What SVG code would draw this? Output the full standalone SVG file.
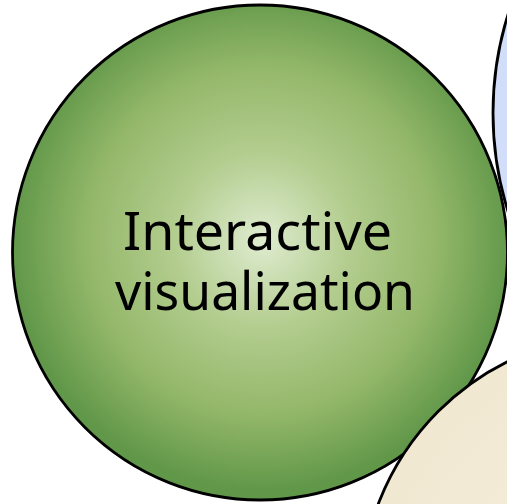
<svg xmlns="http://www.w3.org/2000/svg" width="507" height="504" viewBox="0 0 507 504">
<defs>
<radialGradient id="gGreen" cx="262" cy="240" r="250" gradientUnits="userSpaceOnUse">
<stop offset="0" stop-color="#dfecd0"/>
<stop offset="0.35" stop-color="#b3cd8f"/>
<stop offset="0.7" stop-color="#93b769"/>
<stop offset="1" stop-color="#619749"/>
</radialGradient>
<radialGradient id="gBeige" cx="625" cy="598" r="264" gradientUnits="userSpaceOnUse">
<stop offset="0" stop-color="#f6efdc"/>
<stop offset="1" stop-color="#f1e8d2"/>
</radialGradient>
</defs>
<style>
.c{stroke:#000;stroke-width:2.8}
.t{font-family:"Noto Sans","Open Sans",sans-serif;font-size:53px;fill:#000;text-anchor:middle}
</style>
<g id="blue"><circle class="c" cx="823" cy="113" r="330" fill="#d2ddfa"/></g>
<g id="green">
<circle class="c" cx="260" cy="252.5" r="247.5" fill="url(#gGreen)"/>
<text class="t" x="257.5" y="250" textLength="269" lengthAdjust="spacingAndGlyphs">Interactive</text>
<text class="t" x="265" y="310" textLength="300" lengthAdjust="spacingAndGlyphs">visualization</text>
</g>
<g id="beige"><circle class="c" cx="625" cy="598" r="264" fill="url(#gBeige)"/></g>
<g id="connectors"/>
</svg>
